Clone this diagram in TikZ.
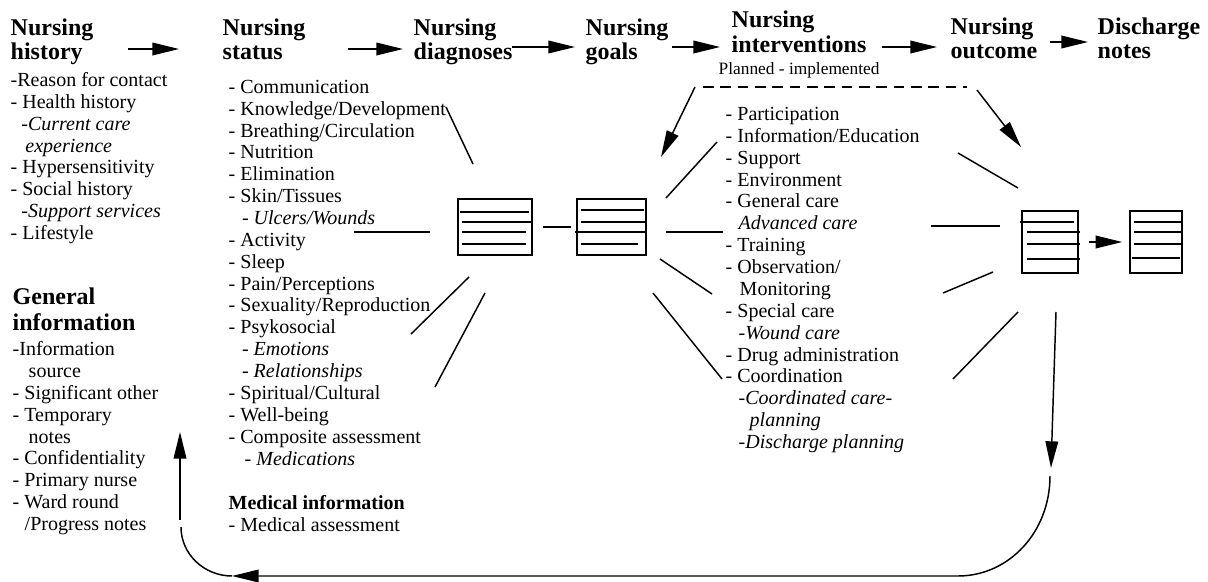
\documentclass[tikz,border=0pt]{standalone}
\usepackage{fontspec}
\setmainfont{Liberation Serif}
\usetikzlibrary{arrows.meta}

\begin{document}
\begin{tikzpicture}[x=.75pt,y=-.75pt,line width=1.1pt]
  \useasboundingbox (0,0) rectangle (1208,582);
  % multi-line nodes sit on the baseline of their last line
  \tikzset{
    Head/.style = {font=\fontsize{18}{18}\selectfont\bfseries,
      align=left, anchor=base west, inner sep=0pt},
    List/.style = {font=\fontsize{15}{16.4}\selectfont,
      align=left, anchor=base west, inner sep=0pt},
    Sheet/.style = {draw, inner sep=0pt},
    Arr/.style = {-{Triangle[length=20pt,width=9.5pt]}}
  }
  % column heads
  \node[Head] (hHist) at (10,59.5)  {Nursing\\history};
  \node[Head] (hStat) at (222,59.5) {Nursing\\status};
  \node[Head] (hDiag) at (413,59)   {Nursing\\diagnoses};
  \node[Head] (hGoal) at (585,59)   {Nursing\\goals};
  \node[Head, font=\fontsize{18}{19}\selectfont\bfseries] (hInt) at (731,52.5)
    {Nursing\\interventions};
  \node[Head] (hOut)  at (950,58)   {Nursing\\outcome};
  \node[Head] (hDis)  at (1097,58)  {Discharge\\notes};
  \node[Head, font=\fontsize{18}{18.8}\selectfont\bfseries] (hGen) at (12,330)
    {General\\information};
  \node[anchor=base west, inner sep=0pt, font=\fontsize{13}{13}\selectfont]
    (plan) at (718,74) {Planned - implemented};
  \foreach \xa/\xb/\y in {128/179/49, 348/403/49, 512/575/47,
                          672/720/47, 882/937/47, 1050/1088/42}
    \draw[Arr] (\xa,\y) -- (\xb,\y);

  % lists
  \node[List] (lHist) at (10,239.5) {-Reason for contact\\
    - Health history\\
    \hspace*{8pt}-\textit{Current care}\\
    \hspace*{11pt}\textit{experience}\\
    - Hypersensitivity\\
    - Social history\\
    \hspace*{8pt}-\textit{Support services}\\
    - Lifestyle};
  \node[List] (lStat) at (228,465) {- Communication\\
    - Knowledge/Development\\
    - Breathing/Circulation\\
    - Nutrition\\
    - Elimination\\
    - Skin/Tissues\\
    \hspace*{10pt}\textit{- Ulcers/Wounds}\\
    - Activity\\
    - Sleep\\
    - Pain/Perceptions\\
    - Sexuality/Reproduction\\
    - Psykosocial\\
    \hspace*{10pt}\textit{- Emotions}\\
    \hspace*{10pt}\textit{- Relationships}\\
    - Spiritual/Cultural\\
    - Well-being\\
    - Composite assessment\\
    \hspace*{12pt}\textit{- Medications}};
  \node[List, font=\fontsize{15}{15.8}\selectfont] (lMed) at (228,531)
    {\textbf{Medical information}\\- Medical assessment};
  \node[List] (lGen) at (12,530.5) {-Information\\
    \hspace*{12pt}source\\
    - Significant other\\
    - Temporary\\
    \hspace*{12pt}notes\\
    - Confidentiality\\
    - Primary nurse\\
    - Ward round\\
    \hspace*{9pt}/Progress notes};
  \node[List] (lInt) at (725,448.5) {- Participation\\
    - Information/Education\\
    - Support\\
    - Environment\\
    - General care\\
    \hspace*{9.75pt}\textit{Advanced care}\\
    - Training\\
    - Observation/\\
    \hspace*{10.5pt}Monitoring\\
    - Special care\\
    \hspace*{9.75pt}\textit{-Wound care}\\
    - Drug administration\\
    - Coordination\\
    \hspace*{9.75pt}\textit{-Coordinated care-}\\
    \hspace*{18pt}\textit{planning}\\
    \hspace*{9.75pt}\textit{-Discharge planning}};

  % record sheets
  \node[Sheet, minimum width=55.5pt, minimum height=42pt] (diag) at (495,227) {};
  \node[Sheet, minimum width=51.75pt, minimum height=42pt] (goal) at (611.5,227) {};
  \node[Sheet, minimum width=42pt, minimum height=46.5pt] (outc) at (1050,242) {};
  \node[Sheet, minimum width=39pt, minimum height=46.5pt] (note) at (1156,242) {};
  \foreach \y/\xa/\xb in {212/460/529, 222/462/532, 232/462/526, 244/462/526,
                          210/581/644, 222/581/645, 232/575/645, 244/581/638,
                          222/1020/1074, 232/1027/1080, 244/1027/1080, 259/1027/1080,
                          222/1134/1182, 232/1134/1182, 244/1134/1182, 258/1132/1180}
    \draw (\xa,\y) -- (\xb,\y);
  \draw[shorten <=7.5pt, shorten >=3.75pt] (diag) -- (goal);
  \draw[Arr, shorten <=7.5pt, shorten >=5.25pt] (outc) -- (note);

  % lines from the lists to the sheets
  \foreach \xa/\ya/\xb/\yb in {446/107/473/164, 354/232/430/232,
                               411/334/469/277, 435/387/485/293,
                               666/198/717/142, 666/232/723/232,
                               660/259/712/294, 653/293/722/379,
                               958/153/1018/188, 931/226/1000/226,
                               943/293/993/272, 953/379/1018/312}
    \draw (\xa,\ya) -- (\xb,\yb);

  % planned - implemented
  \draw[dash pattern=on 8pt off 5pt] (703,87) -- (967,87);
  \draw[Arr] (695,87) -- (661,157);
  \draw[Arr] (977,90) -- (1021,147);

  % back to the start
  \draw[Arr] (1056,312) -- (1051,468);
  \draw[Arr] (1050,476) .. controls (1050,532) and (1009,576) .. (958,576) -- (232,576);
  \draw (232,576) .. controls (204,576) and (181,554) .. (181,527);
  \draw[Arr] (180,520) -- (180,432);
\end{tikzpicture}
\end{document}
